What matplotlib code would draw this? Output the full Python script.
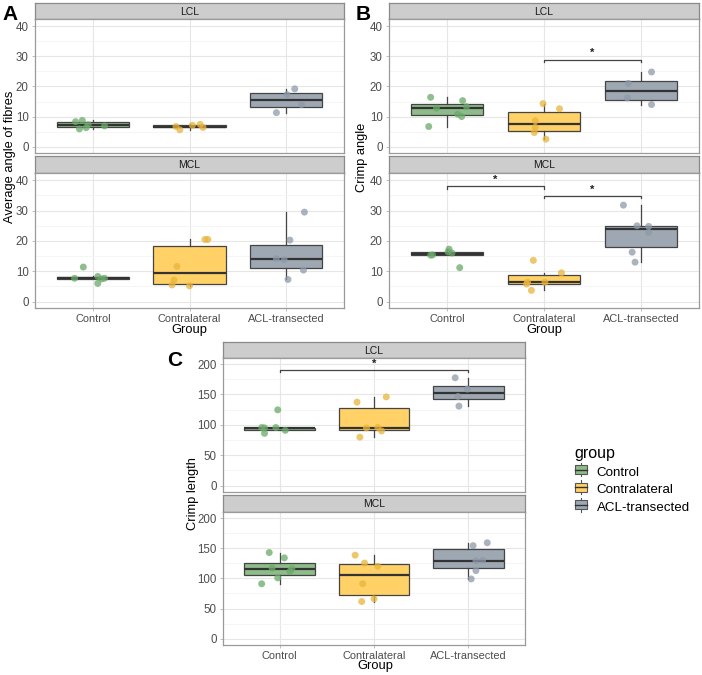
import matplotlib
matplotlib.use("Agg")
import matplotlib.pyplot as plt
from matplotlib.legend_handler import HandlerBase
from matplotlib.patches import Rectangle, Patch
from matplotlib.lines import Line2D

plt.rcParams['font.family'] = ['Liberation Sans', 'DejaVu Sans']

groups = ["Control", "Contralateral", "ACL-transected"]
fills = ["#8dbb89", "#ffd166", "#9ea8b3"]
dots = ["#6aa96a", "#e9b43b", "#8e9aa9"]

angle_lcl = [[8.3, 8.7, 5.9, 6.3, 7.3, 6.9], [5.6, 6.7, 7.1, 7.4, 6.4], [11.3, 17.3, 19.2, 14.0]]
angle_mcl = [[11.4, 7.7, 6.0, 8.3, 7.5, 7.7], [5.5, 7.1, 11.6, 5.2, 20.5, 20.5],
             [7.3, 14.2, 13.8, 20.3, 10.4, 29.5]]
crimp_angle_lcl = [[16.4, 12.8, 6.7, 15.3, 13.3, 10.8, 10.0], [14.3, 8.6, 6.4, 4.7, 2.5, 12.6],
                   [21.0, 16.2, 24.8, 14.0]]
crimp_angle_mcl = [[15.3, 15.4, 17.3, 16.4, 16.0, 11.2], [13.6, 6.4, 5.8, 3.7, 6.4, 9.5],
                   [31.8, 25.0, 24.8, 22.8, 16.3, 13.0]]
crimp_len_lcl = [[95.6, 95.0, 86.0, 124.7, 95.6, 91.0], [137.4, 79.7, 95.0, 95.6, 90.0, 146.0],
                 [177.5, 158.8, 146.7, 130.8]]
crimp_len_mcl = [[142.8, 91.0, 117.0, 100.8, 134.0, 111.7, 116.0], [138.4, 125.3, 120.0, 91.0, 66.0, 61.6],
                 [154.2, 159.0, 129.0, 129.7, 112.8, 99.0]]

# horizontal jitter of the points as drawn
jit_a_lcl = [[-0.18, -0.11, -0.14, -0.07, -0.05, 0.12], [-0.1, -0.14, 0.03, 0.11, 0.14], [-0.1, 0.01, 0.09, 0.16]]
jit_a_mcl = [[-0.10, -0.19, 0.05, 0.05, 0.09, 0.12], [-0.18, -0.16, -0.13, 0.0, 0.16, 0.19],
             [0.02, -0.1, -0.02, 0.04, 0.18, 0.19]]
jit_b_lcl = [[-0.17, -0.11, -0.19, 0.16, 0.2, 0.11, 0.15], [-0.01, -0.09, -0.09, -0.1, 0.02, 0.16],
             [-0.13, -0.14, 0.11, 0.11]]
jit_b_mcl = [[-0.17, -0.15, 0.02, 0.01, 0.05, 0.13], [-0.11, -0.17, -0.18, -0.13, 0.01, 0.18],
             [-0.18, -0.04, 0.08, 0.08, -0.09, -0.06]]
jit_c_lcl = [[-0.19, -0.16, -0.16, -0.02, -0.04, 0.06], [-0.18, -0.15, -0.08, 0.04, 0.08, 0.13],
             [-0.14, -0.01, -0.11, -0.1]]
jit_c_mcl = [[-0.11, -0.19, -0.08, -0.02, 0.05, 0.11, 0.13], [-0.2, -0.1, 0.04, -0.12, 0.0, -0.13],
             [0.05, 0.2, 0.08, 0.15, 0.08, 0.03]]

# significance brackets: (from, to, height, star height)
sig_b_lcl = [(2, 3, 28.9, 31.3)]
sig_b_mcl = [(1, 2, 38.0, 40.0), (2, 3, 34.8, 37.0)]
sig_c_lcl = [(1, 3, 191.0, 200.0)]

W, H = 702, 675
fig = plt.figure(figsize=(W / 100, H / 100), dpi=100)

def px_axes(x0, y0, x1, y1):
    return fig.add_axes([x0 / W, 1 - y1 / H, (x1 - x0) / W, (y1 - y0) / H])

def strip(x0, y0, x1, y1, label):
    s = px_axes(x0, y0, x1, y1)
    s.set_facecolor("#cdcdcd")
    s.set_xticks([]); s.set_yticks([])
    for sp in s.spines.values():
        sp.set_color("#8a8a8a"); sp.set_linewidth(0.9)
    s.spines['bottom'].set_color("#5a5a5a")
    s.text(0.5, 0.45, label, ha="center", va="center", fontsize=7.5, color="#1a1a1a", transform=s.transAxes)

def panel(x0, y0, x1, y1, data, jit, ylim, major, minor, sig=None, xlabels=False, tick_h=0.8):
    ax = px_axes(x0, y0, x1, y1)
    bp = ax.boxplot(data, positions=[1, 2, 3], widths=0.75, patch_artist=True, showfliers=False,
                    showcaps=False, whis=1.5,
                    boxprops=dict(edgecolor="#444444", linewidth=0.9),
                    whiskerprops=dict(color="#444444", linewidth=0.9),
                    medianprops=dict(color="#333333", linewidth=1.6))
    for patch, c in zip(bp['boxes'], fills):
        patch.set_facecolor(c)
        patch.set_zorder(2)
    for i, (vals, js) in enumerate(zip(data, jit)):
        ax.scatter([i + 1 + j for j in js], vals, s=25, color=dots[i], alpha=0.75,
                   edgecolor="none", zorder=3)
    if sig:
        for a, b, yy, ys in sig:
            ax.plot([a, a, b, b], [yy - tick_h, yy, yy, yy - tick_h], color="#444444", lw=0.9, zorder=4)
            ax.text((a + b) / 2, ys, "*", ha="center", va="center", fontsize=8, fontweight="bold",
                    color="#222222")
    ax.set_xlim(0.4, 3.6)
    ax.set_ylim(*ylim)
    ax.set_yticks(major)
    ax.set_yticks(minor, minor=True)
    ax.set_xticks([1, 2, 3])
    ax.set_xticklabels(groups)
    ax.grid(True, which="major", color="#e6e6e6", lw=0.8, zorder=0)
    ax.grid(True, which="minor", axis="y", color="#f2f2f2", lw=0.5, zorder=0)
    ax.set_axisbelow(True)
    for sp in ax.spines.values():
        sp.set_color("#9a9a9a"); sp.set_linewidth(0.9)
    ax.tick_params(axis="both", which="major", labelsize=7.9, labelcolor="#4d4d4d",
                   color="#b3b3b3", length=2.5, width=0.6, pad=2)
    ax.tick_params(axis="y", labelsize=8.3)
    ax.tick_params(which="minor", length=0)
    if not xlabels:
        ax.tick_params(axis="x", labelbottom=False, length=0)
    return ax

ab_lim = (-2.1, 42.4)
ab_major = [0, 10, 20, 30, 40]
ab_minor = [5, 15, 25, 35]

# panel A
strip(35, 3, 344, 19, "LCL")
panel(35, 19, 344, 153, angle_lcl, jit_a_lcl, ab_lim, ab_major, ab_minor)
strip(35, 156, 344, 173, "MCL")
panel(35, 173, 344, 308, angle_mcl, jit_a_mcl, ab_lim, ab_major, ab_minor, xlabels=True)
fig.text(10 / W, 1 - 157 / H, "Average angle of fibres", rotation=90, ha="center", va="center", fontsize=9.3)
fig.text(189 / W, 1 - 330 / H, "Group", ha="center", va="center", fontsize=9.3)
fig.text(10 / W, 1 - 15 / H, "A", ha="center", va="center", fontsize=15, fontweight="bold")

# panel B
strip(389, 3, 699, 19, "LCL")
panel(389, 19, 699, 153, crimp_angle_lcl, jit_b_lcl, ab_lim, ab_major, ab_minor, sig=sig_b_lcl)
strip(389, 156, 699, 173, "MCL")
panel(389, 173, 699, 308, crimp_angle_mcl, jit_b_mcl, ab_lim, ab_major, ab_minor, sig=sig_b_mcl, xlabels=True)
fig.text(362 / W, 1 - 157 / H, "Crimp angle", rotation=90, ha="center", va="center", fontsize=9.3)
fig.text(544 / W, 1 - 330 / H, "Group", ha="center", va="center", fontsize=9.3)
fig.text(363 / W, 1 - 15 / H, "B", ha="center", va="center", fontsize=15, fontweight="bold")

# panel C
c_lim = (-10.5, 210)
c_major = [0, 50, 100, 150, 200]
c_minor = [25, 75, 125, 175]
strip(223, 342, 525, 358, "LCL")
panel(223, 358, 525, 492, crimp_len_lcl, jit_c_lcl, c_lim, c_major, c_minor, sig=sig_c_lcl, tick_h=4)
strip(223, 495, 525, 512, "MCL")
panel(223, 512, 525, 645, crimp_len_mcl, jit_c_mcl, c_lim, c_major, c_minor, xlabels=True)
fig.text(193 / W, 1 - 494 / H, "Crimp length", rotation=90, ha="center", va="center", fontsize=9.3)
fig.text(375 / W, 1 - 666 / H, "Group", ha="center", va="center", fontsize=9.3)
fig.text(175 / W, 1 - 361 / H, "C", ha="center", va="center", fontsize=15, fontweight="bold")

# legend with boxplot-like keys
class BoxKey(HandlerBase):
    def create_artists(self, legend, orig, xd, yd, w, h, fontsize, trans):
        fc = orig.get_facecolor()
        bw, bh = w * 0.8, h * 0.85
        bx, by = xd + (w - bw) / 2, yd + (h - bh) / 2
        r = Rectangle((bx, by), bw, bh, facecolor=fc, edgecolor="#555555", lw=0.8, transform=trans)
        m = Line2D([bx, bx + bw], [by + bh / 2] * 2, color="#333333", lw=1.0, transform=trans)
        v = Line2D([xd + w / 2] * 2, [yd - h * 0.15, yd + h * 1.15], color="#555555", lw=0.8, transform=trans)
        return [v, r, m]

handles = [Patch(facecolor=c) for c in fills]
leg = fig.legend(handles, groups, title="group", loc="upper left", bbox_to_anchor=(562 / W, 1 - 434 / H),
                 frameon=False, fontsize=9.6, title_fontsize=11.5, handler_map={Patch: BoxKey()},
                 handlelength=1.1, handleheight=0.85, handletextpad=0.6, labelspacing=0.35)
leg._legend_box.align = "left"

fig.savefig("out.png", dpi=100)
